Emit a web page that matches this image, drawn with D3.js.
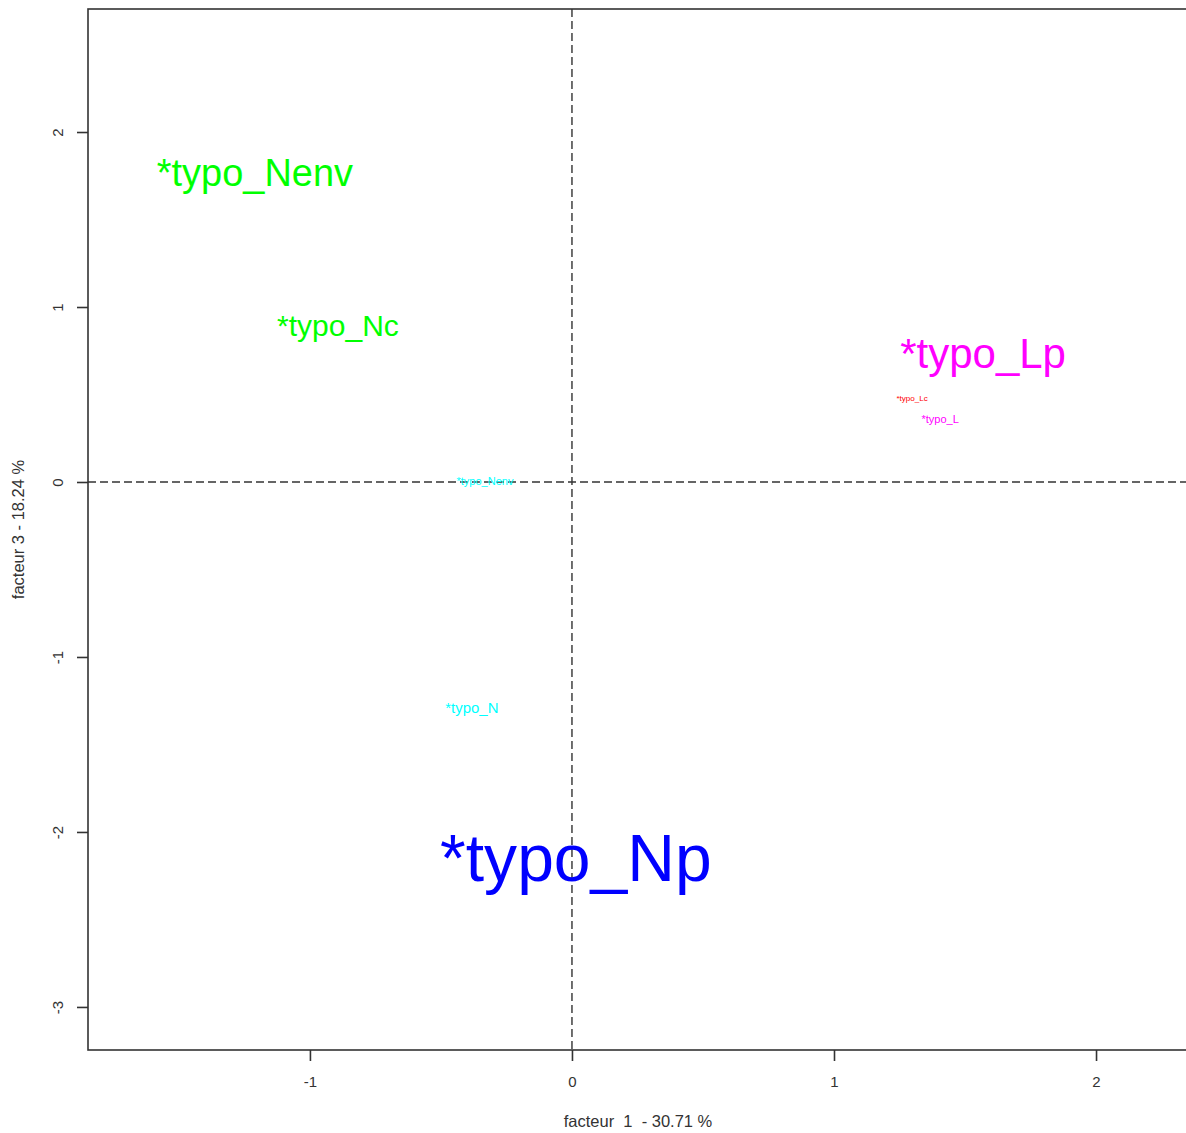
<!DOCTYPE html>
<html>
<head>
<meta charset="utf-8">
<script src="https://cdn.jsdelivr.net/npm/d3@7"></script>
<style>
  body { margin: 0; background: #fff; }
  svg { font-family: "Liberation Sans", Arial, sans-serif; }
</style>
</head>
<body>
<svg id="chart"></svg>
<script>
// modalites projetees sur le plan factoriel 1 x 3
var labels = ["*typo_Nenv", "*typo_Nc", "*typo_Lp", "*typo_Lc", "*typo_L", "*typo_Nenv", "*typo_N", "*typo_Np"]
var fact1 = [-1.21, -0.893, 1.569, 1.298, 1.405, -0.332, -0.382, 0.015]
var fact3 = [1.77, 0.897, 0.737, 0.48, 0.36, 0.006, -1.291, -2.15]
var cex = [2.92, 2.31, 3.23, 0.62, 0.85, 0.85, 1.15, 5.08]
var groupe = ["vert", "vert", "magenta", "rouge", "magenta", "cyan", "cyan", "bleu"]
var xTicks = [-1, 0, 1, 2]
var yTicks = [-3, -2, -1, 0, 1, 2]
var xTitle = "facteur  1  - 30.71 %"
var yTitle = "facteur 3 - 18.24 %"

var width = 1186,
    height = 1133
var margin = {top: 9, right: -2, bottom: 83, left: 88}

var svg = d3.select('#chart')
    .attr('width', width).attr('height', height)

var x = d3.scaleLinear()
    .domain([-1.847, 2.351])
    .range([margin.left, width - margin.right])

var y = d3.scaleLinear()
    .domain([-3.246, 2.703])
    .range([height - margin.bottom, margin.top])

var colors = d3.scaleOrdinal()
    .domain(["vert", "magenta", "rouge", "cyan", "bleu"])
    .range(["#00ff00", "#ff00ff", "#ff0000", "#00ffff", "#0000ff"])

// hyphen classique comme dans R, pas le signe moins unicode
var fmt = function(d){ return String(d); }

// cadre
svg.append('rect')
    .attr('x', x.range()[0]).attr('y', y.range()[1])
    .attr('width', x.range()[1] - x.range()[0])
    .attr('height', y.range()[0] - y.range()[1])
    .style('fill', 'none')
    .style('stroke', '#333')
    .style('stroke-width', 1.6)

// axes
var xAxis = d3.axisBottom(x).tickValues(xTicks).tickSize(11).tickPadding(15)
    .tickFormat(fmt)
svg.append('g')
    .attr('transform', 'translate(0,' + y.range()[0] + ')')
    .call(xAxis)
    .call(function(g){
        g.select('.domain').remove()
        g.selectAll('.tick line').attr('stroke', '#333').attr('stroke-width', 1.6)
        g.selectAll('.tick text').attr('fill', '#333')
            .style('font-size', '15px').style('font-family', '"Liberation Sans", Arial, sans-serif')
    })

var yAxis = d3.axisLeft(y).tickValues(yTicks).tickSize(11).tickPadding(8)
    .tickFormat(fmt)
svg.append('g')
    .attr('transform', 'translate(' + x.range()[0] + ',0)')
    .call(yAxis)
    .call(function(g){
        g.select('.domain').remove()
        g.selectAll('.tick line').attr('stroke', '#333').attr('stroke-width', 1.6)
        g.selectAll('.tick text')
            .attr('fill', '#333')
            .style('font-size', '15px').style('font-family', '"Liberation Sans", Arial, sans-serif')
            .attr('text-anchor', 'middle')
            .attr('transform', 'translate(-30,0) rotate(-90)')
            .attr('x', 0).attr('dy', '0.35em')
    })

// lignes en pointilles sur l'origine
svg.append('line')
    .attr('x1', x(0)).attr('x2', x(0))
    .attr('y1', y.range()[1]).attr('y2', y.range()[0])
    .style('stroke', '#333').style('stroke-width', 1.4).style('stroke-dasharray', '8,4')
svg.append('line')
    .attr('x1', x.range()[0]).attr('x2', x.range()[1])
    .attr('y1', y(0)).attr('y2', y(0))
    .style('stroke', '#333').style('stroke-width', 1.4).style('stroke-dasharray', '8,4')

// etiquettes des modalites
svg.append('g').selectAll('text')
    .data(labels)
    .enter()
    .append('text')
    .attr('x', function(d, i){ return x(fact1[i]); })
    .attr('y', function(d, i){ return y(fact3[i]); })
    .attr('dy', '0.35em')
    .attr('text-anchor', 'middle')
    .style('font-size', function(d, i){ return (13 * cex[i]) + 'px'; })
    .style('fill', function(d, i){ return colors(groupe[i]); })
    .text(function(d){ return d; })

// titres des axes
svg.append('text')
    .attr('x', (x.range()[0] + x.range()[1]) / 2)
    .attr('y', 1127)
    .attr('text-anchor', 'middle')
    .style('font-size', '16.5px')
    .style('white-space', 'pre')
    .attr('fill', '#333')
    .text(xTitle)

svg.append('text')
    .attr('transform', 'translate(24,' + ((y.range()[0] + y.range()[1]) / 2) + ') rotate(-90)')
    .attr('text-anchor', 'middle')
    .style('font-size', '16.5px')
    .style('white-space', 'pre')
    .attr('fill', '#333')
    .text(yTitle)
</script>
</body>
</html>
